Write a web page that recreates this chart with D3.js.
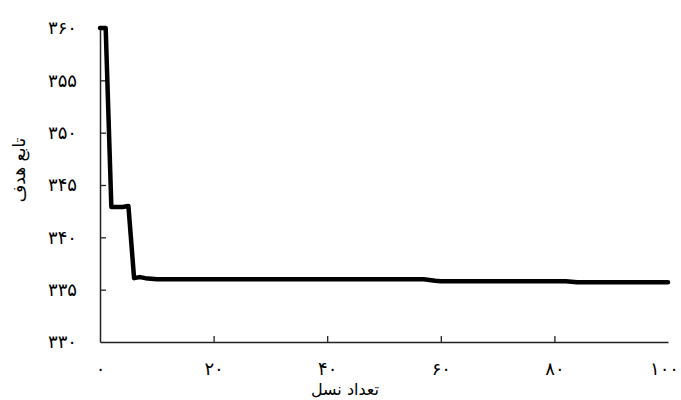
<!DOCTYPE html>
<html>
<head>
<meta charset="utf-8">
<script src="https://cdn.jsdelivr.net/npm/d3@7"></script>
<style>
  html, body { margin: 0; padding: 0; background: #fff; }
  text { font-family: "DejaVu Sans", sans-serif; fill: #000; }
</style>
</head>
<body>
<svg id="chart" width="681" height="400"></svg>
<script>
// ---- data ----
const generations = [0, 1, 2, 3, 4, 5, 6, 7, 8, 10, 20, 30, 40, 50, 57, 59, 60, 70, 80, 82, 84, 90, 100];
const objective   = [360, 360, 342.9, 342.9, 342.9, 343.0, 336.1, 336.2, 336.1, 336.0, 336.0, 336.0, 336.0, 336.0, 336.0, 335.85, 335.8, 335.8, 335.8, 335.8, 335.7, 335.7, 335.7];
const xTickValues = [0, 20, 40, 60, 80, 100];
const xTickLabels = ["۰", "۲۰", "۴۰", "۶۰", "۸۰", "۱۰۰"];
const yTickValues = [330, 335, 340, 345, 350, 355, 360];
const yTickLabels = ["۳۳۰", "۳۳۵", "۳۴۰", "۳۴۵", "۳۵۰", "۳۵۵", "۳۶۰"];
const xTitle = "تعداد نسل";
const yTitle = "تابع هدف";

const svg = d3.select("#chart");
const x = d3.scaleLinear().domain([0, 100]).range([100, 668]);
const y = d3.scaleLinear().domain([330, 360]).range([342, 28]);

// x axis
const xAxis = d3.axisBottom(x)
  .tickValues(xTickValues)
  .tickSizeInner(-6).tickSizeOuter(0)
  .tickFormat((d, i) => xTickLabels[i]);
const gx = svg.append("g").attr("transform", `translate(0,${y(330)})`).call(xAxis);
gx.select(".domain").attr("stroke", "#222").attr("stroke-width", 1.5);
gx.selectAll(".tick line").attr("stroke", "#222").attr("stroke-width", 1.3);
gx.selectAll(".tick text").attr("font-size", 18).attr("dy", 0).attr("y", 33)
  .style("font-family", "DejaVu Sans");
gx.selectAll(".tick").filter(d => d === 100).select("text").attr("x", -4);
gx.selectAll(".tick").filter(d => d === 0 || d === 100).select("line").remove();

// y axis
const yAxis = d3.axisLeft(y)
  .tickValues(yTickValues)
  .tickSizeInner(-6).tickSizeOuter(0)
  .tickFormat((d, i) => yTickLabels[i]);
const gy = svg.append("g").attr("transform", `translate(${x(0)},0)`).call(yAxis);
gy.select(".domain").attr("stroke", "#222").attr("stroke-width", 1.5);
gy.selectAll(".tick line").attr("stroke", "#222").attr("stroke-width", 1.3);
gy.selectAll(".tick text").attr("font-size", 18).attr("x", -23)
  .style("font-family", "DejaVu Sans");
gy.selectAll(".tick").filter(d => d === 330).select("line").remove();

// line
const line = d3.line().x((d, i) => x(generations[i])).y(d => y(d));
svg.append("path")
  .datum(objective)
  .attr("d", line)
  .attr("fill", "none")
  .attr("stroke", "#000")
  .attr("stroke-width", 4.5)
  .attr("stroke-linejoin", "round")
  .attr("stroke-linecap", "round");

// titles
svg.append("text")
  .attr("x", 345).attr("y", 395)
  .attr("text-anchor", "middle")
  .attr("font-size", 16)
  .text(xTitle);
svg.append("text")
  .attr("transform", "translate(25,170) rotate(-90)")
  .attr("text-anchor", "middle")
  .attr("font-size", 17)
  .text(yTitle);
</script>
</body>
</html>
